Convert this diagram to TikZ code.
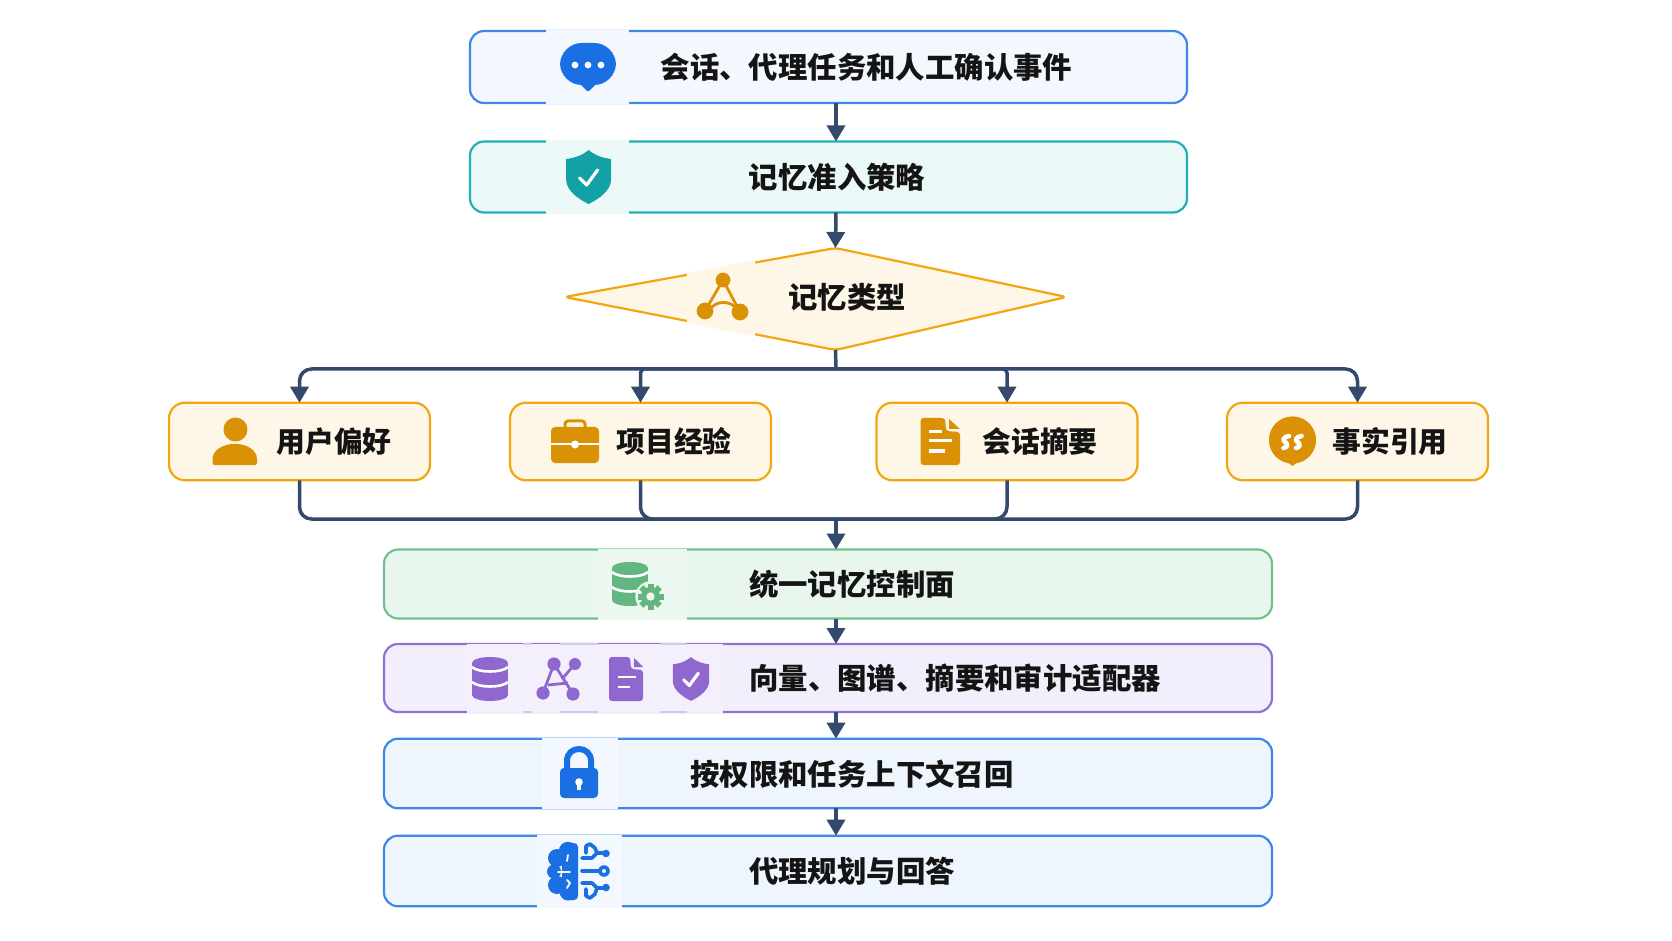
\documentclass[tikz,border=0pt]{standalone}
\usepackage{fontspec}
\newfontfamily\cjk{Noto Sans CJK SC}
\usepackage{xcolor}
\usetikzlibrary{arrows.meta,calc,positioning}

\definecolor{navy}{HTML}{34496B}
\definecolor{blueline}{HTML}{3F88EA}
\definecolor{bluefill}{HTML}{EFF5FD}
\definecolor{bluetop}{HTML}{F3F7FE}
\definecolor{bluehalo}{HTML}{F3F8FE}
\definecolor{blueicon}{HTML}{1A6FE2}
\definecolor{tealline}{HTML}{22B0B2}
\definecolor{tealfill}{HTML}{EAF8F7}
\definecolor{tealhalo}{HTML}{EDF8F8}
\definecolor{tealicon}{HTML}{12A2A6}
\definecolor{amberline}{HTML}{F2A60F}
\definecolor{amberfill}{HTML}{FEF6E6}
\definecolor{ambericon}{HTML}{DB9106}
\definecolor{greenline}{HTML}{74C08C}
\definecolor{greenfill}{HTML}{E9F6EE}
\definecolor{greenhalo}{HTML}{ECF7F0}
\definecolor{greenicon}{HTML}{63B680}
\definecolor{violetline}{HTML}{9070D6}
\definecolor{violetfill}{HTML}{F3EEFB}
\definecolor{violethalo}{HTML}{F4F0FB}
\definecolor{violeticon}{HTML}{8E67CF}

\tikzset{
    flow/.style     = {draw=navy,line width=1.75pt,-{Stealth[length=8pt,width=9pt,inset=0pt]}},
    link/.style     = {draw=navy,line width=1.75pt},
    stage/.style    = {line width=1.1pt,rounded corners=7pt,outer sep=0pt,inner sep=0pt},
    wide/.style     = {stage,minimum width=358.5pt},
    full/.style     = {stage,minimum width=444pt},
    kind/.style     = {stage,draw=amberline,fill=amberfill,rounded corners=8pt,
                       minimum width=130.5pt,minimum height=38.8pt},
    caption/.style  = {font=\cjk\bfseries\fontsize{14.7pt}{16pt}\selectfont,text=black!92,inner sep=0pt},
    kindcaption/.style = {caption,font=\cjk\bfseries\fontsize{14.4pt}{16pt}\selectfont},
    nick/.style     = {draw=white,line width=1.3pt,line cap=round,line join=round},
    trace/.style    = {draw=blueicon,line width=1.8pt,line cap=round,line join=round}
}

% Database, 36 wide and 44 high
\newcommand{\dbicon}[3]{
    \begin{scope}[shift={(#1,#2)}]
        \fill[#3] (18,6) ellipse [x radius=9pt,y radius=3pt];
        \fill[#3] (0,6) rectangle (36,38);
        \fill[#3] (18,38) ellipse [x radius=9pt,y radius=3pt];
        \draw[nick,line cap=butt] (0,10) .. controls (6,16) and (30,16) .. (36,10);
        \draw[nick,line cap=butt] (0,25) .. controls (6,31) and (30,31) .. (36,25);
    \end{scope}
}
% Shield, centre and scale
\newcommand{\shieldicon}[4]{
    \begin{scope}[shift={(#1,#2)},scale=#3]
        \fill[#4] (0,-27) .. controls (-7,-21) and (-15,-19) .. (-22.5,-18) -- (-22.5,2)
            .. controls (-22.5,14) and (-10,22) .. (0,27)
            .. controls (10,22) and (22.5,14) .. (22.5,2) -- (22.5,-18)
            .. controls (15,-19) and (7,-21) .. (0,-27) -- cycle;
        \draw[nick,line width=1.6pt] (-9,1) -- (-2,8) -- (9,-7);
    \end{scope}
}

\begin{document}
\begin{tikzpicture}[x=0.5pt,y=-0.5pt]
    \useasboundingbox[fill=white] (0,0) rectangle (1672,941);
    \coordinate (spine) at (836,0);
    % Stages
    \node[wide,draw=blueline,fill=bluetop,minimum height=36pt] (session) at (828.5,67) {};
    \node[wide,draw=tealline,fill=tealfill,minimum height=35.5pt] (policy) at (828.5,177) {};
    \node[full,draw=greenline,fill=greenfill,minimum height=34.5pt] (control) at (828,584) {};
    \node[full,draw=violetline,fill=violetfill,minimum height=34pt] (adapter) at (828,678) {};
    \node[full,draw=blueline,fill=bluefill,minimum height=34.8pt] (recall) at (828,773.5) {};
    \node[full,draw=blueline,fill=bluefill,minimum height=35.3pt] (answer) at (828,871) {};
    % Kinds
    \node[kind] (user)    at (299.5,441.5) {};
    \node[kind] (project) at (640.5,441.5) {};
    \node[kind] (digest)  at (1007,441.5) {};
    \node[kind] (quote)   at (1357.5,441.5) {};
    % Decision
    \coordinate (hubTop)   at (835.5,248);
    \coordinate (hubRight) at (1066.5,297);
    \coordinate (hubBot)   at (835.5,350);
    \coordinate (hubLeft)  at (564.5,297);
    \draw[amberline,fill=amberfill,line width=1.1pt,rounded corners=2.5pt]
        (hubTop) -- (hubRight) -- (hubBot) -- (hubLeft) -- cycle;
    % Halos behind the icons
    \fill[bluehalo]   (546,30) rectangle (629,104.5);
    \fill[tealhalo]   (546,140) rectangle (629,214.5);
    \fill[greenhalo]  (598,548.5) rectangle (687,619.5);
    \fill[violethalo] (467,643.5) rectangle (723,712.5);
    \fill[bluehalo]   (542,737.5) rectangle (618,809);
    \fill[bluehalo]   (537,834.5) rectangle (622,907.5);
    \foreach \xa/\xb in {523/532,560/598,660/687}{
        \draw[violetline!40,line width=1pt] (\xa,644) -- (\xb,644);
        \draw[violetline!40,line width=1pt] (\xa,712) -- (\xb,712);
    }
    \begin{scope}
        \clip (687,240) rectangle (755,360);
        \fill[amberfill,draw=amberfill,line width=2pt] (hubTop) -- (hubRight) -- (hubBot) -- (hubLeft) -- cycle;
    \end{scope}
    % Connectors
    \draw[flow] (spine |- session.south) -- (spine |- policy.north);
    \draw[flow] (spine |- policy.south) -- (hubTop);
    \coordinate (busTop) at (836,369);
    \coordinate (busBot) at (836,519);
    \draw[link] (hubBot) -- (busTop);
    \foreach \kindname/\bend in {user/6pt,project/2pt,digest/2pt,quote/6pt}{
        \draw[flow,rounded corners=\bend] (busTop) -| (\kindname.north);
        \draw[link,rounded corners=6pt] (\kindname.south) |- (busBot);
    }
    \draw[flow] (busBot) -- (spine |- control.north);
    \draw[flow] (spine |- control.south) -- (spine |- adapter.north);
    \draw[flow] (spine |- adapter.south) -- (spine |- recall.north);
    \draw[flow] (spine |- recall.south) -- (spine |- answer.north);
    % Chat icon
    \fill[blueicon,rounded corners=11pt] (560,43) rectangle (616,85);
    \fill[blueicon,rounded corners=1pt] (579,83) -- (588,92) -- (597,83) -- cycle;
    \foreach \dotx in {575,588,601}
        \fill[white] (\dotx,65) circle (1.7pt);
    % Policy shield
    \shieldicon{588.6}{177}{1}{tealicon}
    % Hub icon
    \begin{scope}[ambericon]
        \draw[line width=1.4pt] (705,311) -- (723,280) -- (740,312);
        \draw[line width=1.4pt] (712,307) .. controls (718,301) and (729,301) .. (735,307);
        \fill (723,280) circle (3.7pt);
        \fill (705,311) circle (4.2pt);
        \fill (740,312) circle (4.2pt);
    \end{scope}
    % Person
    \fill[ambericon] (235.5,429.5) circle (6pt);
    \fill[ambericon,rounded corners=1pt] (212.5,465) -- (212.5,461) .. controls (212.5,450) and (224,444) .. (235,444)
        .. controls (246,444) and (257,450) .. (257,461) -- (257,465) -- cycle;
    % Briefcase
    \draw[ambericon,line width=1.5pt,rounded corners=1.5pt] (565,428) -- (565,421) -- (585,421) -- (585,428);
    \fill[ambericon,rounded corners=2pt] (551,427) rectangle (599,463);
    \draw[white,line width=0.6pt] (551,444) -- (599,444);
    \fill[white] (575,444.5) circle (2pt);
    % Document
    \fill[ambericon,rounded corners=1.5pt] (920.5,418) -- (945,418) -- (946,431) -- (960,432) -- (960,465) -- (920.5,465) -- cycle;
    \fill[ambericon] (949,419) -- (960,429) -- (949,429) -- cycle;
    \draw[white,line width=1.5pt] (929,432) -- (942,432);
    \draw[white,line width=1.5pt] (929,441) -- (952,441);
    \draw[white,line width=1.5pt] (929,451) -- (945,451);
    % Quote
    \fill[ambericon] (1292.5,440) circle (11.8pt);
    \fill[ambericon] (1286,461) -- (1292.5,466) -- (1299,461) -- cycle;
    \foreach \qx in {0,12.5}
        \draw[nick,line width=2.3pt,xshift=\qx*0.5pt]
            (1289,436) .. controls (1283,437) and (1282.5,440) .. (1285,442)
            .. controls (1288,444) and (1288,447) .. (1283.5,448);
    % Control plane icon
    \dbicon{612}{562}{greenicon}
    \fill[greenhalo] (650.5,596.5) circle (7.6pt);
    \foreach \ang in {0,45,...,315}
        \fill[greenicon,rotate around={\ang:(650.5,596.5)}] (647.5,583.5) rectangle (653.5,590);
    \fill[greenicon] (650.5,596.5) circle (4.8pt);
    \fill[greenhalo] (650.5,596.5) circle (2.1pt);
    % Adapter icons
    \dbicon{472}{657}{violeticon}
    \begin{scope}[violeticon]
        \draw[line width=1.4pt] (554,664) -- (543,693);
        \draw[line width=1.4pt] (554,664) -- (573,694);
        \draw[line width=1.4pt] (575,664) -- (562,679);
        \draw[line width=1.4pt] (548,685) -- (568,683);
        \fill (554,664) circle (3.3pt);
        \fill (575,664) circle (3pt);
        \fill (543,693) circle (3.3pt);
        \fill (573,694) circle (3.3pt);
    \end{scope}
    \fill[violeticon,rounded corners=1.5pt] (609,657) -- (630,657) -- (631,669) -- (643,670) -- (643,701) -- (609,701) -- cycle;
    \fill[violeticon] (634,658) -- (643,667) -- (634,667) -- cycle;
    \draw[white,line width=0.8pt] (618,677) -- (636,677);
    \draw[white,line width=0.8pt] (618,687) -- (630,687);
    \shieldicon{691}{679}{0.81}{violeticon}
    % Lock
    \draw[blueicon,line width=3pt] (567,770) -- (567,761) .. controls (567,745) and (591,745) .. (591,761) -- (591,770);
    \fill[blueicon,rounded corners=2pt] (560,768) rectangle (598,798);
    \fill[white] (579,782) circle (1.9pt);
    \fill[white] (577.3,782) rectangle (580.7,790);
    % Brain
    \begin{scope}[blueicon]
        \fill (568,851) circle (4.6pt);
        \fill (557,858) circle (4.5pt);
        \fill (554,871.5) circle (3.5pt);
        \fill (557,885) circle (4.5pt);
        \fill (568,892) circle (4.2pt);
        \fill[rounded corners=2pt] (562,843) rectangle (578,900);
    \end{scope}
    \draw[nick,line width=0.9pt] (568,855) -- (567,861);
    \draw[nick,line width=0.9pt] (558,872) -- (570,872);
    \draw[nick,line width=0.9pt] (567,880) -- (570,883) -- (567,888);
    \draw[trace] (582,871) -- (600,871);
    \fill[blueicon] (604,871) circle (2.9pt);
    \fill[bluehalo] (604,871) circle (1pt);
    \draw[trace] (582,858) -- (592,858) -- (597,853) -- (604,853);
    \draw[trace] (582,883) -- (592,883) -- (597,888) -- (604,888);
    \draw[trace] (586,853) -- (586,846) -- (590,844) -- (595,848) -- (597,853);
    \draw[trace] (586,889) -- (586,896) -- (590,898) -- (595,894) -- (597,888);
    \fill[blueicon] (606,853.5) circle (1.9pt);
    \fill[blueicon] (606,887.5) circle (1.9pt);
    % Captions
    \node[caption] (sessionText) at (866.5,67)  {会话、代理任务和人工确认事件};
    \node[caption] (policyText)  at (837,177)   {记忆准入策略};
    \node[caption] (hubText)     at (847,297)   {记忆类型};
    \node[kindcaption] (userText)    at (334,441.5) {用户偏好};
    \node[kindcaption] (projectText) at (674,441.5) {项目经验};
    \node[kindcaption] (digestText)  at (1040,441.5) {会话摘要};
    \node[kindcaption] (quoteText)   at (1390,441.5) {事实引用};
    \node[caption] (controlText) at (852,584.5) {统一记忆控制面};
    \node[caption] (adapterText) at (955,678.5) {向量、图谱、摘要和审计适配器};
    \node[caption] (recallText)  at (852,774)   {按权限和任务上下文召回};
    \node[caption] (answerText)  at (852,871)   {代理规划与回答};
\end{tikzpicture}
\end{document}
